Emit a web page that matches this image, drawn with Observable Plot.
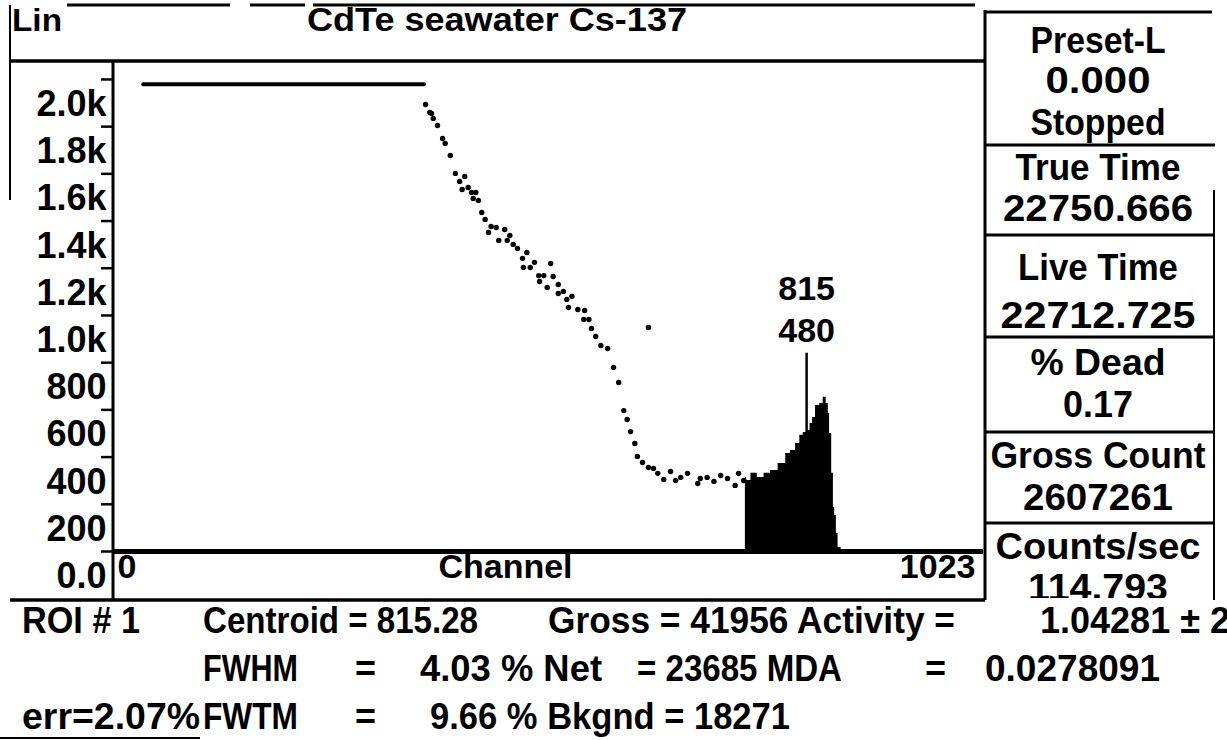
<!DOCTYPE html>
<html><head><meta charset="utf-8">
<script src="https://cdn.jsdelivr.net/npm/d3@7"></script>
<script src="https://cdn.jsdelivr.net/npm/@observablehq/plot@0.6"></script>
<style>
html,body{margin:0;padding:0;background:#fff;}
#wrap{position:relative;width:1227px;height:740px;overflow:hidden;font-family:"Liberation Sans",Arial,sans-serif;font-weight:bold;}
#wrap svg{position:absolute;left:0;top:0;}
</style></head><body><div id="wrap"></div>
<script>
// ---- data ----
const saturatedChannels = [35, 365];
const saturatedLevel = 1980;
const dotChannels = [367,372,374,376,381,387,390,396,402,407,413,410,417,421,426,423,429,433,437,444,450,441,453,460,466,463,470,475,481,486,482,490,495,500,506,501,514,510,517,523,523,529,533,539,535,546,554,553,559,562,567,573,581,588,594,600,604,608,613,616,622,629,635,640,647,655,661,667,675,687,690,698,706,714,722,731,735,741,629];
const dotCounts   = [1894,1860,1856,1835,1805,1750,1729,1678,1602,1568,1589,1534,1542,1521,1521,1496,1487,1436,1407,1377,1373,1352,1318,1364,1339,1318,1301,1284,1242,1267,1203,1203,1225,1169,1169,1144,1220,1119,1165,1131,1093,1102,1068,1081,1034,1025,1021,983,983,945,911,873,860,780,716,597,559,508,458,403,377,356,352,331,305,339,301,314,331,288,309,314,297,322,309,280,331,301,949];
const roiChannels = [743,746,753,761,769,776,787,794,798,806,808,814,817,821,823,828,833,836,840,841,843,846,847,849,851,853,858];
const roiCounts   = [314,301,331,314,331,343,373,415,428,458,492,504,513,542,568,619,627,653,627,585,500,331,186,153,76,17,4];
const yTicks = [0,200,400,600,800,1000,1200,1400,1600,1800,2000];
const yTickLabels = ["0.0","200","400","600","800","1.0k","1.2k","1.4k","1.6k","1.8k","2.0k"];
const xEndLabels = [0, 1023];
const cursorChannel = 815;
const cursorCounts = 480;
const titleText = "CdTe seawater Cs-137";
const scaleText = "Lin";
const axisTitle = "Channel";
const panelTexts = ["Preset-L","0.000","Stopped","True Time","22750.666","Live Time","22712.725","% Dead","0.17","Gross Count","2607261","Counts/sec","114.793"];
const roiRow1 = ["ROI # 1","Centroid = 815.28","Gross = 41956 Activity =","1.04281 ± 2"];
const roiRow2 = ["FWHM","=","4.03 % Net","= 23685 MDA","=","0.0278091"];
const roiRow3 = ["err=2.07%","FWTM","=","9.66 % Bkgnd = 18271"];

// ---- tables ----
const dots = dotChannels.map((c,i)=>({channel:c, counts:dotCounts[i]}));
const roi = roiChannels.map((c,i)=>({channel:c, counts:roiCounts[i]}));
const sat = saturatedChannels.map(c=>({channel:c, counts:saturatedLevel}));
const cursor = [{channel:cursorChannel, counts:cursorCounts}];
const cursorTop = 840;

const chart = Plot.plot({
  width:1227, height:740,
  marginLeft:113, marginRight:244, marginTop:61, marginBottom:189,
  x:{domain:[0,1023], axis:null, label:null},
  y:{domain:[0,2076], label:null},
  style:{fontFamily:'"Liberation Sans", Arial, sans-serif', fontWeight:"bold", fontSize:"34px", color:"#000", background:"transparent", overflow:"visible"},
  marks:[
    Plot.areaY(roi,{x:"channel", y:"counts", fill:"#000", curve:"step"}),
    Plot.ruleY([0],{stroke:"#000", strokeWidth:5}),
    Plot.lineY(sat,{x:"channel", y:"counts", stroke:"#000", strokeWidth:4}),
    Plot.dot(dots,{x:"channel", y:"counts", r:2.7, fill:"#000", stroke:"none"}),
    Plot.ruleX(cursor,{x:"channel", y1:0, y2:cursorTop, stroke:"#000", strokeWidth:2.5}),
    Plot.text(cursor,{x:"channel", y:cursorTop, text:d=>String(d.counts), dy:-22}),
    Plot.text(cursor,{x:"channel", y:cursorTop, text:d=>String(d.channel), dy:-64}),
    Plot.axisY({ticks:yTicks, tickSize:12, tickFormat:()=>"", strokeWidth:2.5, label:null}),
    Plot.axisY({ticks:yTicks, tickSize:0, tickPadding:7, fontSize:36, tickFormat:d=>yTickLabels[yTicks.indexOf(d)], dy:25, label:null}),
    Plot.text([xEndLabels[0]],{x:d=>d, frameAnchor:"bottom", text:d=>String(d), textAnchor:"start", dx:4, dy:26}),
    Plot.text([axisTitle],{frameAnchor:"bottom", text:d=>d, dx:-43, dy:26}),
    Plot.text([xEndLabels[1]],{x:d=>d, frameAnchor:"bottom", text:d=>String(d), textAnchor:"end", dx:-8, dy:26})
  ]
});
document.getElementById("wrap").appendChild(chart);

// ---- screen frame and text panels ----
const ov = d3.select("#wrap").append("svg").attr("width",1227).attr("height",740)
  .style("font-family",'"Liberation Sans", Arial, sans-serif').style("font-weight","bold");
const frameLines = [
  [67,5,230,5,3],[250,5,305,5,3],[313,5,975,5,3],
  [10,5,10,200,2],
  [10,61,985,61,3.5],
  [113,61,113,600,3],
  [10,600,985,600,3.5],
  [985,10,985,600,3],
  [985,12,1212,12,3],
  [985,145,1215,145,3],[985,235,1215,235,3],[985,337,1215,337,3],[985,432,1215,432,3],[985,523,1215,523,3],
  [1214,190,1214,600,2],
  [0,738,200,738,2]
];
frameLines.forEach(([x1,y1,x2,y2,w])=>ov.append("line").attr("x1",x1).attr("y1",y1).attr("x2",x2).attr("y2",y2).attr("stroke","#000").attr("stroke-width",w));

function put(g, s, x, y, size, len, anchor){
  const t = g.append("text").attr("x",x).attr("y",y).attr("font-size",size).attr("text-anchor",anchor||"start").attr("fill","#000").text(s);
  if (len) t.attr("textLength",len).attr("lengthAdjust","spacingAndGlyphs");
  return t;
}
put(ov, scaleText, 12, 31, 32, 50);
put(ov, titleText, 497, 31, 33, 380, "middle");

ov.append("clipPath").attr("id","pclip").append("rect").attr("x",985).attr("y",0).attr("width",242).attr("height",598);
const pg = ov.append("g").attr("clip-path","url(#pclip)");
const panelY = [53,93,135,180,221,280,328,375,417,468,510,559,600];
const panelLen = [135,105,135,165,190,160,195,135,70,215,150,205,140];
panelTexts.forEach((s,i)=>put(pg, s, 1098, panelY[i], 36, panelLen[i], "middle"));

const r1x = [22,203,548,1040], r1l = [118,275,407,190];
roiRow1.forEach((s,i)=>put(ov, s, r1x[i], 633, 36, r1l[i]));
const r2x = [203,355,420,637,925,985], r2l = [95,0,182,205,0,175];
roiRow2.forEach((s,i)=>put(ov, s, r2x[i], 681, 36, r2l[i]||null));
const r3x = [22,203,355,430], r3l = [178,95,0,360];
roiRow3.forEach((s,i)=>put(ov, s, r3x[i], 729, 36, r3l[i]||null));
</script>
</body></html>
